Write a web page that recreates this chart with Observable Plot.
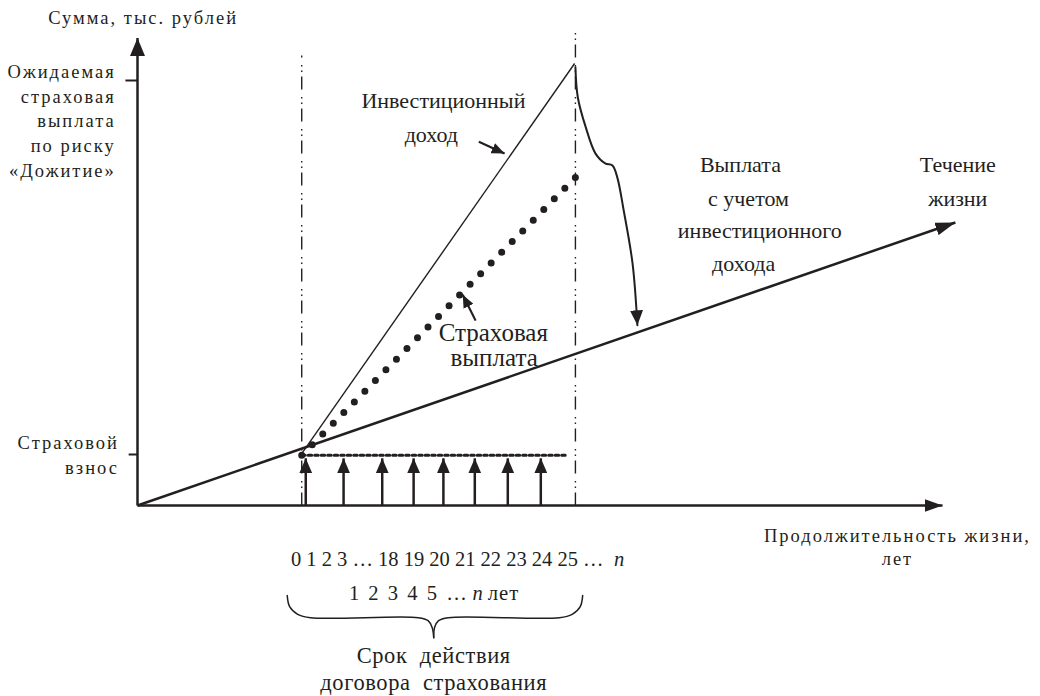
<!DOCTYPE html>
<html>
<head>
<meta charset="utf-8">
<script src="https://cdn.jsdelivr.net/npm/d3@7"></script>
<script src="https://cdn.jsdelivr.net/npm/@observablehq/plot@0.6"></script>
<style>
  html, body { margin: 0; padding: 0; background: #fff; }
  #chart svg g[font-size="18.5"] text { letter-spacing: 2px; }
  #chart svg g[font-size="20.6"] text { word-spacing: 4px; }
  #chart svg g[font-size="20.7"] text { letter-spacing: 1px; }
  #chart svg g[font-size="22.5"] text { letter-spacing: 0.6px; word-spacing: 6px; }
</style>
</head>
<body>
<div id="chart"></div>
<script>
// ---- Schematic data (chart units: x = time axis 0..100, y = sum axis 0..100) ----
const axisX = [{x1: 0, y1: 0, x2: 100, y2: 0}];
const axisY = [{x1: 0, y1: 0, x2: 0, y2: 110}];
const yTicks = [
  {y: 100, x1: -1.5, x2: 0},
  {y: 12, x1: -1.1, x2: 0}
];
const yTickLabels = [
  {y: 101.9, text: "Ожидаемая"},
  {y: 96.2, text: "страховая"},
  {y: 90.4, text: "выплата"},
  {y: 84.5, text: "по риску"},
  {y: 78.8, text: "«Дожитие»"}
];
const premiumLabels = [
  {y: 14.6, text: "Страховой"},
  {y: 8.9, text: "взнос"}
];
const yAxisTitle = [{x: 0.7, y: 114.6, text: "Сумма, тыс. рублей"}];
const xAxisTitle = [
  {x: 94.4, y: -7.1, text: "Продолжительность жизни,"},
  {x: 94.4, y: -12.5, text: "лет"}
];

// life course line ("Течение жизни")
const lifeLine = [{x1: 0, y1: 0, x2: 101.6, y2: 66.6}];
// investment income line
const investLine = [{x1: 20.4, y1: 12.2, x2: 54.3, y2: 104.0}];
// insurance payout (dotted)
const payoutLine = [{x: 20.4, y: 11.8}, {x: 54.4, y: 77.2}];
// premium level (dotted horizontal)
const premiumLine = [{x: 20.4, y: 11.8}, {x: 53.5, y: 11.8}];
// contract start / end (dash-dot verticals)
const contractBounds = [{x: 20.4, top: 105.9}, {x: 54.4, top: 111.3}];
// yearly premium payments (upward arrows)
const premiumYears = [20.9, 25.6, 30.4, 34.3, 38.0, 41.9, 46.0, 50.1];
const premiumLevel = 11.1;
// curved arrow: payout with investment income
const transferCurve = [
  {x: 54.4, y: 103.1}, {x: 54.7, y: 96.0}, {x: 55.7, y: 88.9}, {x: 56.9, y: 82.8},
  {x: 58.1, y: 80.5}, {x: 59.0, y: 80.0}, {x: 59.6, y: 77.2}, {x: 60.4, y: 69.4},
  {x: 61.5, y: 56.9}, {x: 62.1, y: 42.4}
];
// pointer arrows for labels
const pointers = [
  {x1: 42.4, y1: 85.6, x2: 45.6, y2: 82.8},
  {x1: 42.0, y1: 43.5, x2: 40.4, y2: 49.6}
];
// labels inside the chart
const innerLabels = [
  {x: 38.0, y: 95.3, text: "Инвестиционный"},
  {x: 36.5, y: 87.1, text: "доход"},
  {x: 74.9, y: 80.2, text: "Выплата"},
  {x: 75.9, y: 72.2, text: "с учетом"},
  {x: 77.3, y: 64.5, text: "инвестиционного"},
  {x: 75.3, y: 56.9, text: "дохода"},
  {x: 101.9, y: 80.2, text: "Течение"},
  {x: 101.9, y: 72.2, text: "жизни"}
];
const payoutLabels = [
  {x: 44.2, y: 40.5, text: "Страховая"},
  {x: 44.3, y: 34.6, text: "выплата"}
];
// ages under the axis
const agesText = [{x: 57.9, y: -12.7, text: "0 1 2 3 … 18 19 20 21 22 23 24 25 …"}];
const agesN = [{x: 59.2, y: -12.7, text: "n"}];
const termText = [{x: 40.9, y: -20.6, text: "1 2 3 4 5 …"}];
const termN = [{x: 41.6, y: -20.6, text: "n"}];
const termUnit = [{x: 43.5, y: -20.6, text: "лет"}];
// brace for the contract term
const braceLeft = [
  {x: 18.6, y: -21.2}, {x: 18.9, y: -23.8}, {x: 19.9, y: -25.6}, {x: 21.5, y: -26.4},
  {x: 34.9, y: -26.4}, {x: 36.1, y: -27.1}, {x: 36.6, y: -28.7}, {x: 36.8, y: -31.1}
];
const braceRight = [
  {x: 55.3, y: -21.2}, {x: 55.0, y: -23.8}, {x: 54.0, y: -25.6}, {x: 52.4, y: -26.4},
  {x: 38.6, y: -26.4}, {x: 37.4, y: -27.1}, {x: 36.9, y: -28.7}, {x: 36.8, y: -31.1}
];
const braceLabel = [
  {x: 36.8, y: -35.3, text: "Срок действия"},
  {x: 36.8, y: -41.6, text: "договора страхования"}
];

// ---- filled triangular arrowhead marker ----
function tri(len, wid) {
  return (color) => {
    const m = d3.create("svg:marker")
      .attr("viewBox", `${-len} ${-wid / 2} ${len} ${wid}`)
      .attr("markerWidth", len)
      .attr("markerHeight", wid)
      .attr("markerUnits", "userSpaceOnUse")
      .attr("orient", "auto")
      .attr("refX", 0)
      .attr("refY", 0)
      .attr("fill", color)
      .attr("stroke", "none");
    m.append("path").attr("d", `M${-len},${-wid / 2}L0,0L${-len},${wid / 2}Z`);
    return m.node();
  };
}

const ink = "#231f20";
const serif = "Liberation Serif";

const chart = Plot.plot({
  width: 1040,
  height: 696,
  margin: 0,
  x: {domain: [0, 100], range: [137, 942], axis: null},
  y: {domain: [0, 100], range: [505, 80], axis: null},
  style: {background: "#fff", color: ink, fontFamily: "'Liberation Serif', serif", overflow: "visible"},
  marks: [
    // dash-dot contract bounds
    Plot.link(contractBounds, {x1: "x", x2: "x", y1: 0, y2: "top", stroke: ink, strokeWidth: 1.4,
      strokeDasharray: "13 4.5 1.5 4 1.5 7.5"}),
    // axes
    Plot.link(axisX, {x1: "x1", y1: "y1", x2: "x2", y2: "y2", stroke: ink, strokeWidth: 2.5, markerEnd: tri(18, 13)}),
    Plot.link(axisY, {x1: "x1", y1: "y1", x2: "x2", y2: "y2", stroke: ink, strokeWidth: 2.5, markerEnd: tri(18, 15)}),
    Plot.link(yTicks, {x1: "x1", x2: "x2", y1: "y", y2: "y", stroke: ink, strokeWidth: 2}),
    // premium level dotted
    Plot.line(premiumLine, {x: "x", y: "y", stroke: ink, strokeWidth: 3, strokeDasharray: "3.5 3"}),
    // premium arrows
    Plot.link(premiumYears, {x1: d => d, x2: d => d, y1: 0, y2: premiumLevel, stroke: ink, strokeWidth: 2.5, markerEnd: tri(15, 13)}),
    // investment line
    Plot.link(investLine, {x1: "x1", y1: "y1", x2: "x2", y2: "y2", stroke: ink, strokeWidth: 1.4}),
    // payout dotted
    Plot.line(payoutLine, {x: "x", y: "y", stroke: ink, strokeWidth: 7, strokeDasharray: "0 15", strokeLinecap: "round"}),
    // life line
    Plot.link(lifeLine, {x1: "x1", y1: "y1", x2: "x2", y2: "y2", stroke: ink, strokeWidth: 2.5, markerEnd: tri(20, 13)}),
    // curved transfer arrow
    Plot.line(transferCurve, {x: "x", y: "y", curve: "catmull-rom", stroke: ink, strokeWidth: 2, markerEnd: tri(15, 13)}),
    // label pointers
    Plot.link(pointers, {x1: "x1", y1: "y1", x2: "x2", y2: "y2", stroke: ink, strokeWidth: 2.2, markerEnd: tri(13, 11)}),
    // brace
    Plot.line(braceLeft, {x: "x", y: "y", curve: "catmull-rom", stroke: ink, strokeWidth: 1.5}),
    Plot.line(braceRight, {x: "x", y: "y", curve: "catmull-rom", stroke: ink, strokeWidth: 1.5}),
    // texts
    Plot.text(yAxisTitle, {x: "x", y: "y", text: "text", fontSize: 18.5, fontFamily: serif, fill: ink}),
    Plot.text(yTickLabels, {x: -2.7, y: "y", text: "text", fontSize: 18.5, fontFamily: serif, textAnchor: "end", fill: ink}),
    Plot.text(premiumLabels, {x: -2.3, y: "y", text: "text", fontSize: 18.5, fontFamily: serif, textAnchor: "end", fill: ink}),
    Plot.text(xAxisTitle, {x: "x", y: "y", text: "text", fontSize: 18.5, fontFamily: serif, fill: ink}),
    Plot.text(innerLabels, {x: "x", y: "y", text: "text", fontSize: 22, fontFamily: serif, fill: ink}),
    Plot.text(payoutLabels, {x: "x", y: "y", text: "text", fontSize: 25, fontFamily: serif, fill: ink}),
    Plot.text(agesText, {x: "x", y: "y", text: "text", fontSize: 20.5, fontFamily: serif, textAnchor: "end", fill: ink}),
    Plot.text(agesN, {x: "x", y: "y", text: "text", fontSize: 20.5, fontFamily: serif, textAnchor: "start", fontStyle: "italic", fill: ink}),
    Plot.text(termText, {x: "x", y: "y", text: "text", fontSize: 20.6, fontFamily: serif, textAnchor: "end", fill: ink}),
    Plot.text(termN, {x: "x", y: "y", text: "text", fontSize: 20.5, fontFamily: serif, textAnchor: "start", fontStyle: "italic", fill: ink}),
    Plot.text(termUnit, {x: "x", y: "y", text: "text", fontSize: 20.7, fontFamily: serif, textAnchor: "start", fill: ink}),
    Plot.text(braceLabel, {x: "x", y: "y", text: "text", fontSize: 22.5, fontFamily: serif, fill: ink})
  ]
});
document.getElementById("chart").appendChild(chart);
</script>
</body>
</html>
